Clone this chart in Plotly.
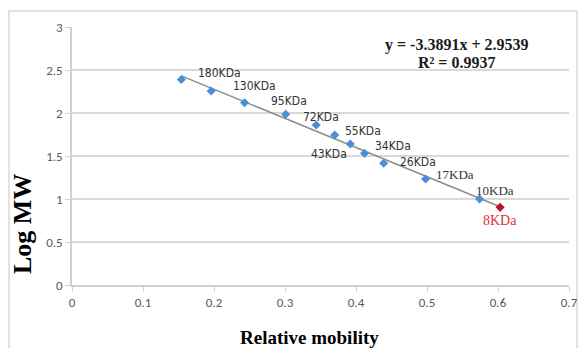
import plotly.graph_objects as go

# ---- data ----
mobility = [0.154, 0.196, 0.243, 0.301, 0.344, 0.370, 0.392, 0.412, 0.439, 0.498, 0.574]
log_mw = [2.39, 2.256, 2.12, 1.985, 1.86, 1.744, 1.64, 1.531, 1.415, 1.233, 1.0]
labels = ["", "180KDa", "130KDa", "95KDa", "72KDa", "55KDa", "43KDa", "34KDa", "26KDa", "17KDa", "10KDa"]
unknown_mobility = [0.603]
unknown_log_mw = [0.903]
unknown_label = ["8KDa"]
slope = -3.3891
intercept = 2.9539
r2 = 0.9937
x_ticks = [0, 0.1, 0.2, 0.3, 0.4, 0.5, 0.6, 0.7]
y_ticks = [0, 0.5, 1, 1.5, 2, 2.5, 3]

# ---- label styling (pixel offsets from their point) ----
label_shift = [(0, 0), (8, 18), (10, 17), (3, 13), (5, 8), (28, 4), (-21, -10),
               (28, 7), (34, 1), (29, 4), (15, 9)]
label_serif = [False, False, False, False, False, False, False, False, False, True, True]

fig = go.Figure()

# trendline
tx = [min(mobility), unknown_mobility[0]]
ty = [slope * v + intercept for v in tx]
fig.add_trace(go.Scatter(x=tx, y=ty, mode="lines",
                         line=dict(color="#8c8c8c", width=1.5),
                         hoverinfo="skip", showlegend=False))

fig.add_trace(go.Scatter(x=mobility, y=log_mw, mode="markers",
                         marker=dict(symbol="diamond", size=7, color="#4a90d9"),
                         showlegend=False))
fig.add_trace(go.Scatter(x=unknown_mobility, y=unknown_log_mw, mode="markers",
                         marker=dict(symbol="diamond", size=7, color="#c0102a"),
                         showlegend=False))

sans = "DejaVu Sans Condensed, DejaVu Sans, sans-serif"
serif = "Liberation Serif, Times New Roman, serif"

for xv, yv, lab, (dx, dy), sf in zip(mobility, log_mw, labels, label_shift, label_serif):
    if not lab:
        continue
    fig.add_annotation(x=xv, y=yv, text=lab, showarrow=False,
                       xshift=dx, yshift=dy, xanchor="center", yanchor="middle",
                       font=dict(family=serif if sf else sans,
                                 size=13 if sf else 12, color="#333333"))

fig.add_annotation(x=unknown_mobility[0], y=unknown_log_mw[0], text=unknown_label[0],
                   showarrow=False, xshift=0, yshift=-13, xanchor="center", yanchor="middle",
                   font=dict(family=serif, size=14, color="#e0303a"))

# equation text
fig.add_annotation(xref="paper", yref="paper", x=(457 - 72) / 497, y=(285 - 45) / 258,
                   xanchor="center", yanchor="middle",
                   text=f"<b>y = {slope:.4f}x + {intercept:.4f}</b>",
                   showarrow=False, font=dict(family=serif, size=16, color="#1a1a1a"))
fig.add_annotation(xref="paper", yref="paper", x=(456 - 72) / 497, y=(285 - 62.5) / 258,
                   xanchor="center", yanchor="middle",
                   text=f"<b>R² = {r2:.4f}</b>",
                   showarrow=False, font=dict(family=serif, size=16, color="#1a1a1a"))

# axis titles
fig.add_annotation(xref="paper", yref="paper", x=(22 - 72) / 497, y=(285 - 224) / 258,
                   xanchor="center", yanchor="middle",
                   text="<b>Log MW</b>", textangle=-90, showarrow=False,
                   font=dict(family=serif, size=26, color="#000000"))
fig.add_annotation(xref="paper", yref="paper", x=(309 - 72) / 497, y=(285 - 337) / 258,
                   xanchor="center", yanchor="middle",
                   text="<b>Relative mobility</b>", showarrow=False,
                   font=dict(family=serif, size=19, color="#000000"))

# outer chart border (left, top, right edges; bottom runs off the picture)
bx0, bx1 = (9 - 72) / 497, (577 - 72) / 497
by0, by1 = (285 - 348) / 258, (285 - 11) / 258
fig.add_shape(type="path", xref="paper", yref="paper",
              path=f"M {bx0},{by0} L {bx0},{by1} L {bx1},{by1} L {bx1},{by0}",
              line=dict(color="#d9d9d9", width=1.5), layer="below")

axis_font = dict(family="Carlito, Liberation Sans, sans-serif", size=13, color="#595959")
fig.update_layout(
    width=580, height=349,
    margin=dict(l=72, r=11, t=27, b=64, autoexpand=False),
    paper_bgcolor="white", plot_bgcolor="white",
    showlegend=False,
    xaxis=dict(range=[0, 0.7], tickvals=x_ticks, ticktext=[f"{v:g}" for v in x_ticks],
               automargin=False,
               showgrid=False, zeroline=False, showline=True, linecolor="#d0d0d0",
               linewidth=1.5, ticks="outside", ticklen=5, tickcolor="#d0d0d0",
               tickfont=axis_font),
    yaxis=dict(range=[0, 3], tickvals=y_ticks, ticktext=[f"{v:g}" for v in y_ticks],
               automargin=False,
               showgrid=True, gridcolor="#d9d9d9", gridwidth=1.5, zeroline=False,
               showline=True, linecolor="#d0d0d0", linewidth=1.5,
               ticks="outside", ticklen=5, tickcolor="#d0d0d0",
               tickfont=axis_font),
)

fig.write_html("out.html",
               post_script="document.body.style.margin='0';document.body.style.overflow='hidden';")
